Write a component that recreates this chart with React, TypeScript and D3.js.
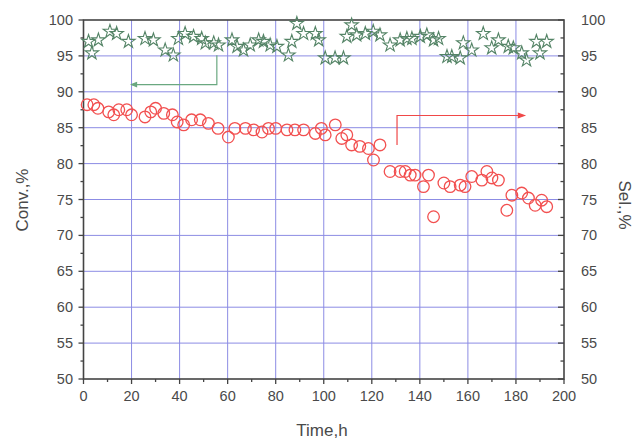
import React from "react";
import * as d3 from "d3";

const convTime = [1.5,4.3,6,10.5,12.6,14.7,18,20,25.6,28,30,33.4,37,39,41.7,45,48.6,52,56,60.3,63,67.4,70.8,74.3,77,80,84.7,88,91.6,96.5,99,100.6,104.8,107.5,109.6,111.6,115,118.6,120.7,123.4,127.6,131.8,133.9,136,138,141.5,143.6,145.7,150,152.6,156.8,158.8,161.6,165.8,167.9,170,172.7,176.2,178.3,182.4,185.2,188,190.7,192.8];
const convValue = [88.2,88.2,87.7,87.2,86.8,87.5,87.5,86.8,86.5,87.2,87.7,87.0,86.8,85.8,85.4,86.1,86.1,85.6,84.9,83.7,84.9,84.9,84.7,84.4,84.9,84.9,84.7,84.7,84.7,84.2,84.9,84.0,85.4,83.5,84.0,82.6,82.4,82.1,80.5,82.6,78.9,78.9,78.9,78.4,78.4,76.8,78.4,72.6,77.3,76.8,77.0,76.8,78.2,77.7,78.9,78.0,77.7,73.5,75.6,75.9,75.2,74.2,74.9,74.0];

const selTime = [2.1,3.5,6.2,11,13.8,18.7,25.6,29.1,34,37.4,39.5,42.3,45.8,49.2,50.7,54.2,56.2,61.8,63.9,66.6,69.4,72.9,74.9,77.7,80.5,85.3,86.7,88.8,91.6,96.5,97.9,100.6,104.7,108.2,109.6,111.6,113.7,117.3,120.6,123.4,127.6,131.8,134.6,136.7,140.2,142.9,145.7,147.8,151.3,153.3,156.8,158.1,161.6,166.4,169.9,172.7,176.8,178.9,182.4,184.4,188.5,190,192.8];
const selValue = [97,95.4,97.2,98.4,98.1,97,97.4,97.2,95.8,95.1,97.4,98.1,97.7,97.4,96.8,96.8,96.5,97.2,96.3,95.8,96.5,97.2,97,96.5,96.3,95.1,97,99.5,98.1,98.1,97.2,94.7,94.7,94.7,97.7,99.3,97.9,98.1,98.4,97.9,96.5,97.2,97.4,97.4,97.7,97.9,97.2,97.4,94.9,94.9,94.7,96.8,95.8,98.1,96.1,97.2,96.3,96.1,95.4,94.4,97,95.4,97];

const xTicks = [0,20,40,60,80,100,120,140,160,180,200];
const yTicks = [50,55,60,65,70,75,80,85,90,95,100];

export default function App() {
  const W = 638, H = 444;
  const x = d3.scaleLinear().domain([0, 200]).range([83.5, 564]);
  const y = d3.scaleLinear().domain([50, 100]).range([379, 20]);
  const star = d3.symbol().type(d3.symbolStar).size(56)();
  const xMinor = d3.range(0, 201, 10);
  const yMinor = d3.range(50, 100.01, 2.5);
  const axisCol = "#444";
  const txtCol = "#4a4a4a";
  const font = "Liberation Sans, Arial, sans-serif";
  const gridCol = "#8c8ce4";

  return (
    <svg width={W} height={H} style={{ position: "absolute", left: 0, top: 0, background: "#fff" }}>
      <rect x={0} y={0} width={W} height={H} fill="#fff" />
      {xTicks.slice(1, -1).map((t) => (
        <line key={"gx" + t} x1={x(t)} x2={x(t)} y1={y(50)} y2={y(100)} stroke={gridCol} strokeWidth={1} />
      ))}
      {yTicks.slice(1, -1).map((t) => (
        <line key={"gy" + t} x1={x(0)} x2={x(200)} y1={y(t)} y2={y(t)} stroke={gridCol} strokeWidth={1} />
      ))}
      <rect x={x(0)} y={y(100)} width={x(200) - x(0)} height={y(50) - y(100)} fill="none" stroke={axisCol} strokeWidth={1.6} />
      {xMinor.map((t) => (
        <line key={"xt" + t} x1={x(t)} x2={x(t)} y1={y(50)} y2={y(50) + (t % 20 === 0 ? 5 : 3)} stroke={axisCol} strokeWidth={1.3} />
      ))}
      {yMinor.map((t) => (
        <line key={"yl" + t} x1={x(0)} x2={x(0) - (t % 5 === 0 ? 5 : 3)} y1={y(t)} y2={y(t)} stroke={axisCol} strokeWidth={1.3} />
      ))}
      {yMinor.map((t) => (
        <line key={"yr" + t} x1={x(200)} x2={x(200) - (t % 5 === 0 ? 6 : 3.5)} y1={y(t)} y2={y(t)} stroke={axisCol} strokeWidth={1.3} />
      ))}
      {xTicks.map((t) => (
        <text key={"xl" + t} x={x(t)} y={401} textAnchor="middle" fontSize={14.5} fontFamily={font} fill={txtCol}>{t}</text>
      ))}
      {yTicks.map((t) => (
        <text key={"yll" + t} x={73} y={y(t) + 5} textAnchor="end" fontSize={14.5} fontFamily={font} fill={txtCol}>{t}</text>
      ))}
      {yTicks.map((t) => (
        <text key={"yrl" + t} x={581} y={y(t) + 5} textAnchor="start" fontSize={14.5} fontFamily={font} fill={txtCol}>{t}</text>
      ))}
      <text x={322} y={436} textAnchor="middle" fontSize={17} fontFamily={font} fill={txtCol}>Time,h</text>
      <text transform={`translate(28,${200}) rotate(-90)`} textAnchor="middle" fontSize={17} fontFamily={font} fill={txtCol}>Conv.,%</text>
      <text transform={`translate(619,${205}) rotate(90)`} textAnchor="middle" fontSize={17} fontFamily={font} fill={txtCol}>Sel.,%</text>
      <g stroke="#6aa880" strokeWidth={1.2} fill="none">
        <polyline points={`${x(55.5)},${y(95.1)} ${x(55.5)},${y(91)} ${x(20)},${y(91)}`} />
        <polygon points={`${x(20) + 5},${y(91) - 2} ${x(20)},${y(91)} ${x(20) + 5},${y(91) + 2}`} fill="#6aa880" />
      </g>
      <g stroke="#f04848" strokeWidth={1.2} fill="none">
        <polyline points={`${x(130.5)},${y(82.6)} ${x(130.5)},${y(86.7)} ${x(183.5)},${y(86.7)}`} />
        <polygon points={`${x(183.5) - 6},${y(86.7) - 2.2} ${x(183.5)},${y(86.7)} ${x(183.5) - 6},${y(86.7) + 2.2}`} fill="#f04848" />
      </g>
      {convTime.map((t, i) => (
        <circle key={"c" + i} cx={x(t)} cy={y(convValue[i])} r={5.8} fill="none" stroke="#f25050" strokeWidth={1.3} />
      ))}
      {selTime.map((t, i) => (
        <path key={"s" + i} d={star} transform={`translate(${x(t)},${y(selValue[i])})`} fill="none" stroke="#548466" strokeWidth={1.1} />
      ))}
    </svg>
  );
}
